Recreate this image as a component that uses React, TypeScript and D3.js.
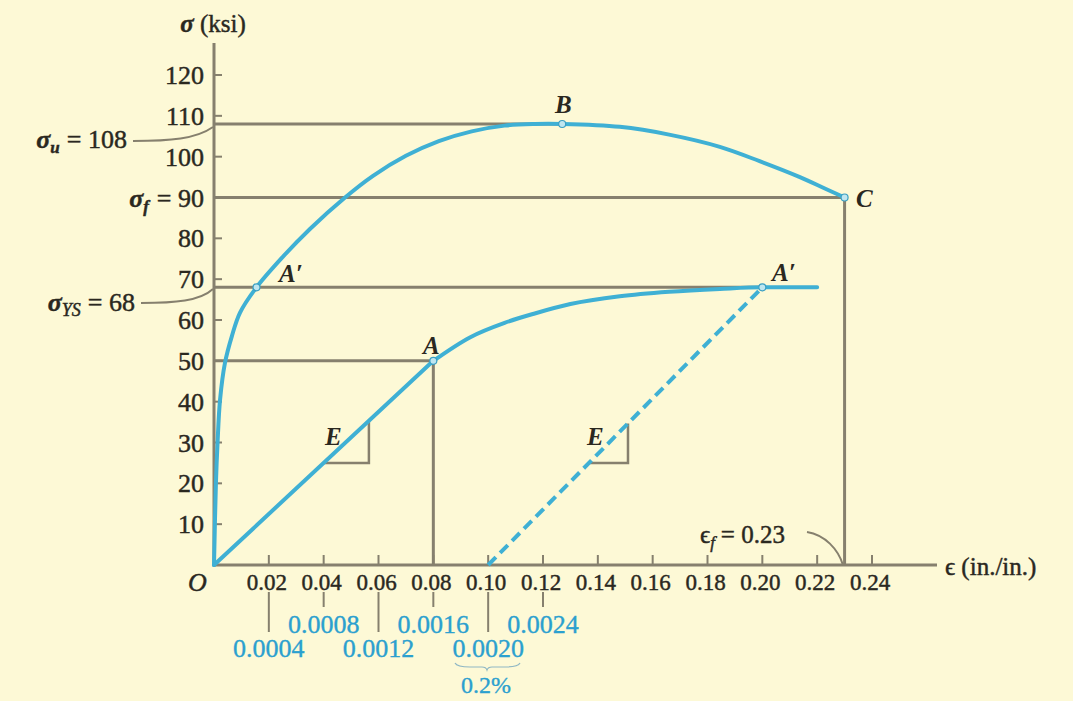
import React from "react";
import * as d3 from "d3";

// ---- data ----
// upper (low-magnification) strain scale, in./in.
const xTickValues = [0.02, 0.04, 0.06, 0.08, 0.1, 0.12, 0.14, 0.16, 0.18, 0.2, 0.22, 0.24];
const xTickLabels = ["0.02", "0.04", "0.06", "0.08", "0.10", "0.12", "0.14", "0.16", "0.18", "0.20", "0.22", "0.24"];
const yTickValues = [10, 20, 30, 40, 50, 60, 70, 80, 90, 100, 110, 120];
const yTickLabels = ["10", "20", "30", "40", "50", "60", "70", "80", "", "100", "110", "120"];
// lower (high-magnification) strain scale
const lowTickValues = [0.0004, 0.0008, 0.0012, 0.0016, 0.002, 0.0024];
const lowTickLabels = ["0.0004", "0.0008", "0.0012", "0.0016", "0.0020", "0.0024"];

// full curve O-A'-B-C (upper scale)
const fullEps = [0, 0.0007, 0.0013, 0.0022, 0.004, 0.0065, 0.0095, 0.0155, 0.025, 0.035, 0.0478, 0.058, 0.07, 0.082, 0.094, 0.106, 0.117, 0.127, 0.148, 0.166, 0.1845, 0.199, 0.2137, 0.2228, 0.23];
const fullSigma = [0, 20, 30, 40.4, 49.5, 56, 61.8, 68, 75.4, 82.3, 90, 95.3, 100.2, 103.8, 106.2, 107.6, 108, 108, 107.3, 105.4, 102.4, 98.9, 95, 92.2, 90];

// magnified initial curve O-A-A' (lower scale)
const elasticEps = [0, 0.0016];
const elasticSigma = [0, 50];
const plasticEps = [0.0016, 0.00187, 0.00212, 0.00234, 0.0026, 0.00296, 0.00332, 0.00369, 0.004, 0.0044];
const plasticSigma = [50, 55.8, 59.3, 61.6, 63.9, 65.8, 66.9, 67.6, 68, 68];
const offsetEps = [0.002, 0.004];
const offsetSigma = [0, 68];

const sigmaU = 108;
const sigmaF = 90;
const sigmaYS = 68;
const sigmaA = 50;
const epsB = 0.127;
const epsF = 0.23;
const epsAprimeUpper = 0.0155;
const epsA = 0.0016;
const epsAprime = 0.004;

const W = 1073;
const H = 701;
const FONT = "'Liberation Serif', 'Times New Roman', serif";
const BG = "#fdf9d6";
const INK = "#2a281f";
const GRAY = "#86806e";
const CURVE = "#3fb0d4";
const BLUE = "#2ba0cf";

export default function App() {
  const x = d3.scaleLinear().domain([0, 0.24]).range([214, 872]);
  const xLow = d3.scaleLinear().domain([0, 0.0048]).range([214, 872]);
  const y = d3.scaleLinear().domain([0, 120]).range([565, 75]);

  const upLine = d3
    .line<number>()
    .x((_, i) => x(fullEps[i]))
    .y((d) => y(d))
    .curve(d3.curveCatmullRom.alpha(0.5));
  const lowLine = (eps: number[]) =>
    d3
      .line<number>()
      .x((_, i) => xLow(eps[i]))
      .y((d) => y(d))
      .curve(d3.curveMonotoneX);

  const fullPath = upLine(fullSigma) || "";
  const elasticPath = lowLine(elasticEps)(elasticSigma) || "";
  const plasticPath = lowLine(plasticEps)(plasticSigma) || "";
  const offsetPath = lowLine(offsetEps)(offsetSigma) || "";

  // slope triangles
  const tri = (e0: number, s0: number, e1: number, s1: number, sLeg: number, eRight: number) => {
    const slope = (s1 - s0) / (e1 - e0);
    const eLeft = e0 + (sLeg - s0) / slope;
    const sTop = s0 + (eRight - e0) * slope;
    return `M${xLow(eLeft)},${y(sLeg)}L${xLow(eRight)},${y(sLeg)}L${xLow(eRight)},${y(sTop)}`;
  };
  const tri1 = tri(elasticEps[0], elasticSigma[0], elasticEps[1], elasticSigma[1], 25, 0.00113);
  const tri2 = tri(offsetEps[0], offsetSigma[0], offsetEps[1], offsetSigma[1], 25, 0.00302);

  const marker = (cx: number, cy: number, key: string) => (
    <circle key={key} cx={cx} cy={cy} r={3.5} fill="#bfe6f0" stroke="#3a9fc3" strokeWidth={1.2} />
  );

  const thick = { stroke: INK, strokeWidth: 0.45, paintOrder: "stroke" } as const;
  const letter = { fontFamily: FONT, fontStyle: "italic", fontWeight: 700, fontSize: 25, fill: INK } as const;

  return (
    <svg
      width={W}
      height={H}
      style={{ position: "absolute", left: 0, top: 0, background: BG }}
      viewBox={`0 0 ${W} ${H}`}
    >
      <rect x={0} y={0} width={W} height={H} fill={BG} />

      {/* reference lines */}
      <g stroke={GRAY} strokeWidth={3} fill="none">
        <line x1={x(0)} x2={x(epsB)} y1={y(sigmaU)} y2={y(sigmaU)} />
        <line x1={x(0)} x2={x(epsF)} y1={y(sigmaF)} y2={y(sigmaF)} />
        <line x1={x(epsF)} x2={x(epsF)} y1={y(sigmaF)} y2={y(0)} />
        <line x1={x(0)} x2={xLow(epsAprime)} y1={y(sigmaYS)} y2={y(sigmaYS)} />
        <line x1={x(0)} x2={xLow(epsA)} y1={y(sigmaA)} y2={y(sigmaA)} />
        <line x1={xLow(epsA)} x2={xLow(epsA)} y1={y(sigmaA)} y2={y(0)} />
        <path d={tri1} strokeWidth={2.5} />
        <path d={tri2} strokeWidth={2.5} />
      </g>

      {/* axes */}
      <g stroke={GRAY} strokeWidth={3}>
        <line x1={x(0)} x2={x(0)} y1={y(0) + 1.5} y2={43} />
        <line x1={x(0)} x2={937} y1={y(0)} y2={y(0)} />
        {yTickValues.map((v) => (
          <line key={"yt" + v} x1={x(0)} x2={x(0) + 8} y1={y(v)} y2={y(v)} strokeWidth={2} />
        ))}
        {xTickValues.map((v) => (
          <line key={"xt" + v} x1={x(v)} x2={x(v)} y1={y(0)} y2={y(0) - 10} strokeWidth={2} />
        ))}
        {lowTickValues.map((v, i) => (
          <line
            key={"lt" + v}
            x1={xLow(v)}
            x2={xLow(v)}
            y1={592}
            y2={i % 2 === 0 ? 632 : 607}
            strokeWidth={2}
          />
        ))}
      </g>

      {/* curves */}
      <g fill="none" stroke={CURVE} strokeWidth={4} strokeLinecap="round">
        <path d={fullPath} />
        <path d={elasticPath} />
        <path d={plasticPath} />
        <path d={offsetPath} strokeDasharray="11 6" strokeLinecap="butt" />
      </g>

      {/* markers */}
      {marker(x(epsAprimeUpper), y(sigmaYS), "m1")}
      {marker(x(epsB), y(sigmaU), "m2")}
      {marker(x(epsF), y(sigmaF), "m3")}
      {marker(xLow(epsA), y(sigmaA), "m4")}
      {marker(xLow(epsAprime), y(sigmaYS), "m5")}

      {/* y tick labels */}
      <g fontFamily={FONT} fontSize={26} fill={INK} textAnchor="end" {...thick}>
        {yTickValues.map((v, i) =>
          yTickLabels[i] ? (
            <text key={"yl" + v} x={204} y={y(v)} dy="0.35em">
              {yTickLabels[i]}
            </text>
          ) : null
        )}
      </g>

      {/* x tick labels */}
      <g fontFamily={FONT} fontSize={23} fill={INK} textAnchor="middle" {...thick}>
        {xTickValues.map((v, i) => (
          <text key={"xl" + v} x={x(v) - 2} y={590}>
            {xTickLabels[i]}
          </text>
        ))}
      </g>

      {/* lower scale labels */}
      <g fontFamily={FONT} fontSize={26} fill={BLUE} textAnchor="middle" stroke={BLUE} strokeWidth={0.35}>
        {lowTickValues.map((v, i) => (
          <text key={"ll" + v} x={xLow(v)} y={i % 2 === 0 ? 657 : 633}>
            {lowTickLabels[i]}
          </text>
        ))}
        <text x={486} y={693} fontSize={24}>0.2%</text>
      </g>
      <path
        d="M455,663 Q457,667 470,667 L482,667 Q486,667 487,670 Q488,667 492,667 L505,667 Q518,667 520,663"
        fill="none"
        stroke="#8fb7c4"
        strokeWidth={1.2}
      />

      {/* axis titles */}
      <text x={213} y={32} fontFamily={FONT} fontSize={25} fill={INK} textAnchor="middle" {...thick}>
        <tspan fontStyle="italic" fontWeight={700}>σ</tspan> (ksi)
      </text>
      <text x={945} y={575} fontFamily={FONT} fontSize={25} fill={INK} {...thick}>
        ϵ (in./in.)
      </text>
      <text x={188} y={591} {...letter} fontWeight={400} fontSize={26} {...thick}>O</text>

      {/* annotations */}
      <g fontFamily={FONT} fontSize={26} fill={INK} {...thick}>
        <text x={127} y={148} textAnchor="end">
          <tspan fontStyle="italic" fontWeight={700}>σ</tspan>
          <tspan fontStyle="italic" fontWeight={700} fontSize={17} dy={5}>u</tspan>
          <tspan dy={-5} dx={7}>= 108</tspan>
        </text>
        <text x={204} y={207} textAnchor="end">
          <tspan fontStyle="italic" fontWeight={700}>σ</tspan>
          <tspan fontStyle="italic" fontWeight={700} fontSize={17} dy={5}>f</tspan>
          <tspan dy={-5} dx={8}>= 90</tspan>
        </text>
        <text x={135} y={311} textAnchor="end">
          <tspan fontStyle="italic" fontWeight={700}>σ</tspan>
          <tspan fontStyle="italic" fontSize={18} dy={5}>YS</tspan>
          <tspan dy={-5} dx={7}>= 68</tspan>
        </text>
        <text x={700} y={543} fontSize={25}>
          <tspan>ϵ</tspan>
          <tspan fontStyle="italic" fontSize={17} dy={5}>f</tspan>
          <tspan dy={-5} dx={6}>= 0.23</tspan>
        </text>
      </g>
      <path d="M133,141 C170,141 196,139 213,127" fill="none" stroke={GRAY} strokeWidth={2} />
      <path d="M141,303 C175,303 200,301 213,289" fill="none" stroke={GRAY} strokeWidth={2} />
      <path d="M807,532 C825,535 838,549 843,565" fill="none" stroke={GRAY} strokeWidth={2} />

      {/* point letters */}
      <text x={279} y={282} {...letter}>A′</text>
      <text x={555} y={113} {...letter}>B</text>
      <text x={856} y={207} {...letter}>C</text>
      <text x={423} y={354} {...letter}>A</text>
      <text x={772} y={281} {...letter}>A′</text>
      <text x={325} y={445} {...letter}>E</text>
      <text x={587} y={445} {...letter}>E</text>
    </svg>
  );
}
